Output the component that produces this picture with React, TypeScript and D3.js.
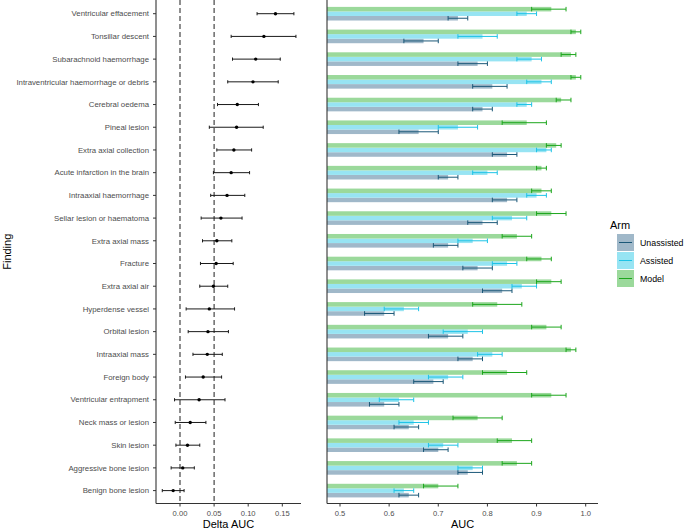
import React from "react";
import * as d3 from "d3";

const findings = [
  "Ventricular effacement",
  "Tonsillar descent",
  "Subarachnoid haemorrhage",
  "Intraventricular haemorrhage or debris",
  "Cerebral oedema",
  "Pineal lesion",
  "Extra axial collection",
  "Acute infarction in the brain",
  "Intraaxial haemorrhage",
  "Sellar lesion or haematoma",
  "Extra axial mass",
  "Fracture",
  "Extra axial air",
  "Hyperdense vessel",
  "Orbital lesion",
  "Intraaxial mass",
  "Foreign body",
  "Ventricular entrapment",
  "Neck mass or lesion",
  "Skin lesion",
  "Aggressive bone lesion",
  "Benign bone lesion",
];

const deltaAuc = [0.140, 0.123, 0.111, 0.107, 0.084, 0.083, 0.079, 0.075, 0.069, 0.060, 0.054, 0.053, 0.049, 0.043, 0.041, 0.040, 0.034, 0.028, 0.015, 0.011, 0.004, -0.010];
const deltaLow = [0.113, 0.075, 0.077, 0.070, 0.055, 0.043, 0.054, 0.049, 0.045, 0.031, 0.033, 0.030, 0.029, 0.009, 0.012, 0.019, 0.008, -0.008, -0.007, -0.006, -0.013, -0.026];
const deltaHigh = [0.167, 0.170, 0.147, 0.144, 0.115, 0.122, 0.105, 0.102, 0.095, 0.091, 0.076, 0.078, 0.070, 0.080, 0.071, 0.062, 0.061, 0.066, 0.038, 0.029, 0.021, 0.006];

const modelAuc = [0.93, 0.98, 0.97, 0.98, 0.95, 0.88, 0.94, 0.91, 0.91, 0.93, 0.86, 0.91, 0.93, 0.82, 0.92, 0.97, 0.84, 0.93, 0.78, 0.85, 0.86, 0.70];
const modelLow = [0.89, 0.97, 0.95, 0.97, 0.94, 0.83, 0.92, 0.90, 0.89, 0.90, 0.83, 0.88, 0.90, 0.77, 0.89, 0.96, 0.79, 0.89, 0.73, 0.82, 0.83, 0.67];
const modelHigh = [0.96, 0.99, 0.98, 0.99, 0.97, 0.92, 0.95, 0.92, 0.93, 0.96, 0.89, 0.93, 0.95, 0.87, 0.95, 0.98, 0.88, 0.96, 0.83, 0.89, 0.89, 0.74];

const assistedAuc = [0.88, 0.79, 0.89, 0.91, 0.88, 0.74, 0.92, 0.80, 0.90, 0.85, 0.77, 0.84, 0.87, 0.63, 0.76, 0.81, 0.72, 0.62, 0.65, 0.71, 0.77, 0.63];
const assistedLow = [0.86, 0.74, 0.86, 0.88, 0.86, 0.70, 0.90, 0.77, 0.88, 0.81, 0.74, 0.81, 0.85, 0.59, 0.71, 0.78, 0.68, 0.58, 0.62, 0.68, 0.74, 0.61];
const assistedHigh = [0.90, 0.82, 0.91, 0.93, 0.89, 0.78, 0.93, 0.82, 0.92, 0.88, 0.80, 0.86, 0.90, 0.66, 0.79, 0.83, 0.75, 0.65, 0.68, 0.74, 0.79, 0.65];

const unassistedAuc = [0.74, 0.67, 0.78, 0.81, 0.79, 0.66, 0.84, 0.72, 0.84, 0.79, 0.72, 0.78, 0.83, 0.59, 0.72, 0.77, 0.69, 0.59, 0.64, 0.70, 0.76, 0.64];
const unassistedLow = [0.72, 0.63, 0.74, 0.77, 0.77, 0.62, 0.81, 0.70, 0.81, 0.76, 0.69, 0.75, 0.79, 0.55, 0.68, 0.74, 0.65, 0.56, 0.61, 0.67, 0.74, 0.62];
const unassistedHigh = [0.76, 0.70, 0.80, 0.84, 0.81, 0.70, 0.86, 0.74, 0.86, 0.82, 0.74, 0.81, 0.85, 0.61, 0.75, 0.79, 0.71, 0.62, 0.66, 0.72, 0.79, 0.66];

const arms = ["Unassisted", "Assisted", "Model"];
const deltaTicks = [0, 0.05, 0.1, 0.15];
const aucTicks = [0.5, 0.6, 0.7, 0.8, 0.9, 1.0];
const refLines = [0, 0.05];

const fills: Record<string, string> = { Unassisted: "#a0b8c9", Assisted: "#97e4f3", Model: "#9bd99b" };
const strokes: Record<string, string> = { Unassisted: "#1b5878", Assisted: "#1ec3e6", Model: "#1ca61c" };

const armData: Record<string, { v: number[]; lo: number[]; hi: number[] }> = {
  Unassisted: { v: unassistedAuc, lo: unassistedLow, hi: unassistedHigh },
  Assisted: { v: assistedAuc, lo: assistedLow, hi: assistedHigh },
  Model: { v: modelAuc, lo: modelLow, hi: modelHigh },
};

const FONT = "'Liberation Sans', Arial, Helvetica, sans-serif";

export default function App() {
  const W = 685, H = 531;
  const top = 0, bottom = 503.5;
  const L = { x0: 156, x1: 301 };
  const R = { x0: 327, x1: 598 };

  const y = d3.scalePoint<string>().domain(findings).range([13.7, 490.6]);
  const step = y.step();
  const xL = d3.scaleLinear().domain([(L.x0 - 180) / 682, (L.x1 - 180) / 682]).range([L.x0, L.x1]);
  const xR = d3.scaleLinear().domain([0.5 + (R.x0 - 340) / 491.4, 0.5 + (R.x1 - 340) / 491.4]).range([R.x0, R.x1]);

  const groupH = step * 0.6;
  const barH = groupH / 3;
  // order top to bottom: Model, Assisted, Unassisted
  const armOffset: Record<string, number> = { Model: -barH, Assisted: 0, Unassisted: barH };

  const axisText = "#4d4d4d";

  return (
    <svg width={W} height={H} style={{ position: "absolute", left: 0, top: 0 }} fontFamily={FONT}>
      <rect width={W} height={H} fill="#fff" />
      {/* Left panel */}
      {refLines.map((v) => (
        <line key={v} x1={xL(v)} x2={xL(v)} y1={top} y2={bottom} stroke="#333" strokeWidth={1.1} strokeDasharray="5,3" />
      ))}
      {findings.map((f, i) => {
        const cy = y(f)!;
        return (
          <g key={f}>
            <line x1={xL(deltaLow[i])} x2={xL(deltaHigh[i])} y1={cy} y2={cy} stroke="#1a1a1a" strokeWidth={1} />
            <line x1={xL(deltaLow[i])} x2={xL(deltaLow[i])} y1={cy - 1.6} y2={cy + 1.6} stroke="#1a1a1a" strokeWidth={1} />
            <line x1={xL(deltaHigh[i])} x2={xL(deltaHigh[i])} y1={cy - 1.6} y2={cy + 1.6} stroke="#1a1a1a" strokeWidth={1} />
            <circle cx={xL(deltaAuc[i])} cy={cy} r={1.7} fill="#000" />
            <line x1={L.x0 - 3} x2={L.x0} y1={cy} y2={cy} stroke="#333" strokeWidth={1} />
            <text x={L.x0 - 7} y={cy} dy="0.35em" textAnchor="end" fontSize={7.8} fill={axisText}>{f}</text>
          </g>
        );
      })}
      <line x1={L.x0} x2={L.x0} y1={top} y2={bottom} stroke="#333" strokeWidth={1.1} />
      <line x1={L.x0} x2={L.x1} y1={bottom} y2={bottom} stroke="#333" strokeWidth={1.1} />
      {deltaTicks.map((t) => (
        <g key={t}>
          <line x1={xL(t)} x2={xL(t)} y1={bottom} y2={bottom + 3} stroke="#333" strokeWidth={1} />
          <text x={xL(t)} y={bottom + 12.5} textAnchor="middle" fontSize={7.6} fill={axisText}>{d3.format(".2f")(t)}</text>
        </g>
      ))}
      <text x={(L.x0 + L.x1) / 2} y={528} textAnchor="middle" fontSize={11} fill="#000">Delta AUC</text>
      <text transform={`translate(10.5, ${(top + bottom) / 2}) rotate(-90)`} textAnchor="middle" fontSize={11} fill="#000">Finding</text>

      {/* Right panel */}
      {findings.map((f, i) => {
        const cy = y(f)!;
        return (
          <g key={f}>
            {arms.map((a) => {
              const d = armData[a];
              const c = cy + armOffset[a];
              return (
                <rect key={a} x={R.x0} y={c - barH / 2} width={Math.max(0, xR(d.v[i]) - R.x0)} height={barH} fill={fills[a]} />
              );
            })}
            {arms.map((a) => {
              const d = armData[a];
              const c = cy + armOffset[a];
              const cap = barH / 2;
              return (
                <g key={a + "e"} stroke={strokes[a]} strokeWidth={1}>
                  <line x1={xR(d.lo[i])} x2={xR(d.hi[i])} y1={c} y2={c} />
                  <line x1={xR(d.lo[i])} x2={xR(d.lo[i])} y1={c - cap} y2={c + cap} />
                  <line x1={xR(d.hi[i])} x2={xR(d.hi[i])} y1={c - cap} y2={c + cap} />
                </g>
              );
            })}
          </g>
        );
      })}
      <line x1={R.x0} x2={R.x0} y1={top} y2={bottom} stroke="#333" strokeWidth={1.1} />
      <line x1={R.x0} x2={R.x1} y1={bottom} y2={bottom} stroke="#333" strokeWidth={1.1} />
      {aucTicks.map((t) => (
        <g key={t}>
          <line x1={xR(t)} x2={xR(t)} y1={bottom} y2={bottom + 3} stroke="#333" strokeWidth={1} />
          <text x={xR(t)} y={bottom + 12.5} textAnchor="middle" fontSize={7.6} fill={axisText}>{d3.format(".1f")(t)}</text>
        </g>
      ))}
      <text x={(R.x0 + R.x1) / 2} y={528} textAnchor="middle" fontSize={11} fill="#000">AUC</text>

      {/* Legend */}
      <text x={610} y={229} fontSize={11} fill="#000">Arm</text>
      {arms.map((a, k) => {
        const ky = 234 + k * 18;
        return (
          <g key={a}>
            <rect x={617} y={ky} width={17} height={17} fill={fills[a]} />
            <line x1={619} x2={632} y1={ky + 8.5} y2={ky + 8.5} stroke={strokes[a]} strokeWidth={1} />
            <text x={640} y={ky + 8.5} dy="0.35em" fontSize={8.8} fill="#000">{a}</text>
          </g>
        );
      })}
    </svg>
  );
}
